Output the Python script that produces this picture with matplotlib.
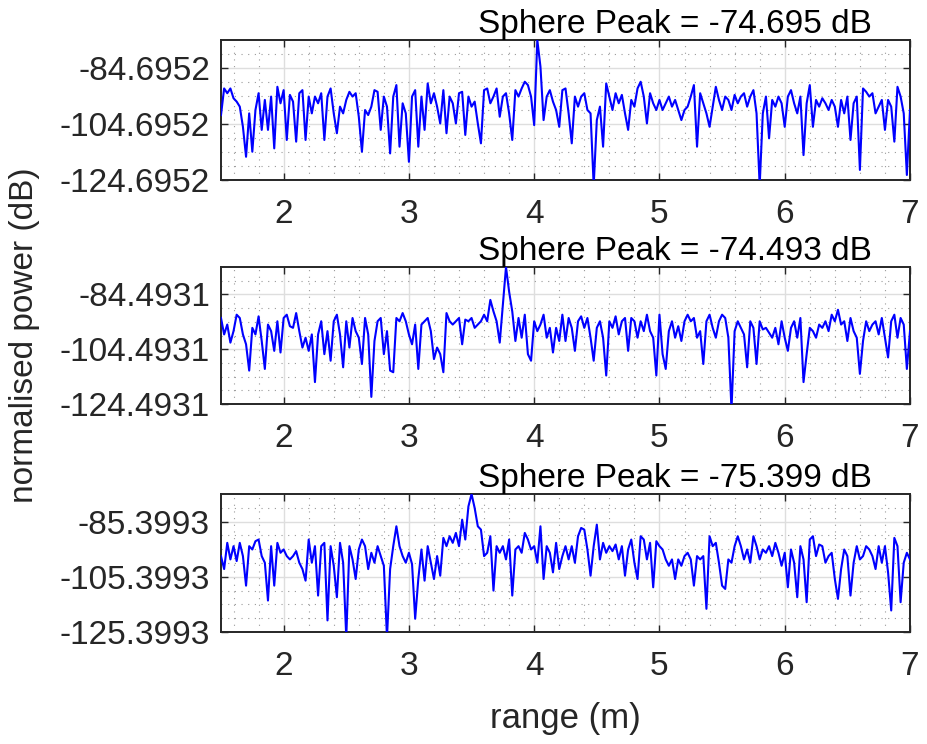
import numpy as np
import matplotlib
matplotlib.use("Agg")
import matplotlib.pyplot as plt

plt.rcParams["font.family"] = ["Liberation Sans", "DejaVu Sans"]

# Range bins (m) and normalised power (dB) for the three sphere measurements
range_first, range_last = 1.5, 7.0

power_1 = [
    -101.5, -92.0, -93.7, -92.0, -95.5, -96.7, -98.5, -105.7, -116.4, -100.9,
    -114.6, -99.7, -93.7, -106.8, -96.1, -106.8, -94.9, -113.4, -91.4, -97.3,
    -92.6, -110.4, -94.3, -96.7, -111.0, -93.7, -92.6, -110.4, -94.9, -100.9,
    -94.9, -97.3, -93.7, -110.4, -94.9, -92.0, -100.9, -108.0, -98.5, -100.9,
    -96.1, -93.2, -94.9, -93.7, -102.1, -114.6, -99.7, -101.5, -98.5, -92.6,
    -93.2, -106.8, -94.9, -98.5, -115.2, -94.9, -90.8, -112.8, -97.3, -100.9,
    -118.2, -94.9, -92.6, -112.8, -94.9, -106.8, -90.2, -97.3, -93.7, -98.5,
    -104.5, -92.6, -108.0, -94.9, -97.3, -104.5, -93.7, -93.2, -108.6, -94.9,
    -98.5, -96.7, -104.5, -111.6, -92.6, -92.0, -97.3, -94.9, -92.0, -102.1,
    -94.9, -93.7, -100.9, -110.4, -92.6, -94.9, -92.0, -89.6, -90.8, -94.9,
    -105.1, -74.6952, -84.2, -103.3, -94.9, -92.6, -96.7, -99.7, -105.7, -92.6,
    -92.0, -100.9, -111.6, -94.9, -98.5, -94.9, -93.7, -99.7, -100.9, -126.7,
    -103.3, -98.5, -112.8, -90.2, -94.9, -99.7, -93.7, -97.3, -94.3, -100.9,
    -106.8, -96.1, -98.5, -92.0, -89.6, -94.9, -104.5, -93.7, -97.3, -99.7,
    -96.1, -99.7, -97.3, -94.9, -98.5, -96.1, -99.7, -103.3, -99.7, -98.5,
    -94.9, -90.8, -112.8, -93.7, -97.3, -100.9, -105.7, -98.5, -91.4, -96.1,
    -99.7, -94.9, -96.1, -99.7, -94.3, -97.3, -94.9, -93.7, -98.5, -94.9,
    -92.6, -100.9, -126.7, -100.9, -94.9, -109.8, -96.1, -98.5, -94.9, -97.3,
    -105.7, -94.9, -92.6, -97.3, -100.9, -94.9, -115.8, -97.3, -90.8, -105.7,
    -96.1, -98.5, -95.5, -97.3, -99.7, -96.1, -98.5, -105.7, -96.1, -100.9,
    -94.9, -110.4, -97.3, -94.9, -121.1, -92.0, -93.2, -94.9, -93.7, -100.9,
    -98.5, -96.1, -106.8, -96.1, -98.5, -111.0, -91.4, -94.9, -100.9, -122.9,
    -99.7,
]

power_2 = [
    -93.1, -99.1, -95.5, -102.1, -97.9, -91.9, -93.1, -99.1, -102.7, -112.3,
    -96.7, -99.1, -92.5, -101.5, -111.7, -95.5, -97.9, -105.1, -94.3, -105.7,
    -93.1, -91.9, -96.1, -96.7, -91.3, -97.9, -103.9, -100.3, -105.1, -99.1,
    -116.5, -99.1, -94.3, -106.3, -97.9, -108.7, -94.3, -91.9, -99.1, -111.1,
    -94.3, -103.9, -93.1, -97.9, -100.3, -109.9, -93.1, -99.1, -121.9, -101.5,
    -94.3, -93.1, -106.3, -97.9, -112.3, -112.9, -93.1, -94.3, -91.3, -94.3,
    -99.1, -102.7, -95.5, -111.7, -95.5, -94.3, -93.1, -97.9, -108.1, -103.9,
    -106.3, -112.9, -91.3, -94.3, -95.5, -94.3, -93.1, -102.7, -93.7, -94.3,
    -93.1, -96.7, -95.5, -94.3, -91.9, -94.3, -86.5, -90.7, -94.3, -102.1,
    -88.3, -74.4931, -83.5, -90.7, -101.5, -93.1, -100.3, -91.9, -106.3, -108.7,
    -94.3, -97.9, -95.5, -91.9, -100.3, -96.7, -105.7, -96.7, -101.5, -91.9,
    -101.5, -93.1, -96.7, -105.1, -94.3, -92.5, -96.7, -93.1, -100.3, -108.7,
    -96.7, -94.3, -100.3, -114.1, -94.3, -96.7, -92.5, -99.1, -94.3, -93.1,
    -105.1, -93.1, -94.3, -100.3, -94.3, -97.9, -91.9, -97.9, -100.3, -114.1,
    -91.9, -106.3, -111.7, -97.9, -94.3, -100.3, -96.1, -101.5, -94.3, -91.9,
    -94.3, -93.1, -100.3, -97.9, -109.9, -94.3, -91.9, -96.7, -100.3, -94.3,
    -91.9, -93.1, -100.3, -126.5, -97.9, -94.3, -96.7, -99.1, -111.1, -94.3,
    -96.7, -109.9, -94.3, -97.3, -96.7, -98.5, -100.3, -96.7, -102.7, -94.3,
    -100.3, -105.1, -96.7, -94.3, -100.3, -93.1, -116.5, -106.3, -96.7, -97.9,
    -100.3, -95.5, -96.7, -94.3, -97.9, -91.9, -94.3, -90.1, -95.5, -94.3,
    -101.5, -93.1, -97.9, -100.3, -113.5, -101.5, -94.3, -97.9, -95.5, -94.3,
    -99.1, -93.1, -100.3, -107.5, -94.3, -91.9, -100.3, -93.1, -95.5, -111.7,
    -97.9,
]

power_3 = [
    -97.9, -102.6, -93.1, -99.1, -94.3, -99.7, -93.1, -97.9, -108.6, -94.3,
    -95.5, -92.5, -91.9, -97.9, -100.3, -114.0, -94.3, -108.6, -93.1, -96.7,
    -95.5, -97.9, -99.1, -97.9, -96.1, -100.3, -102.6, -106.8, -91.9, -100.3,
    -94.3, -112.2, -94.3, -93.1, -121.2, -94.3, -101.4, -112.8, -93.1, -100.3,
    -127.4, -94.3, -99.1, -106.2, -95.5, -91.9, -94.3, -102.6, -96.7, -100.3,
    -94.3, -97.9, -101.4, -127.4, -102.6, -94.3, -87.1, -94.3, -97.9, -100.3,
    -96.7, -100.8, -120.6, -106.2, -95.5, -106.8, -94.3, -100.3, -106.2, -97.9,
    -105.0, -91.3, -94.3, -90.7, -93.1, -89.5, -94.3, -84.7, -91.9, -79.9,
    -75.3993, -80.5, -87.1, -88.3, -97.9, -96.7, -90.7, -110.4, -94.3, -96.7,
    -94.3, -99.1, -91.9, -112.2, -95.5, -94.3, -96.7, -89.5, -91.9, -95.5,
    -94.3, -100.3, -87.1, -106.2, -94.3, -96.7, -103.8, -93.1, -102.6, -97.9,
    -94.3, -99.1, -94.3, -100.3, -90.7, -87.7, -88.3, -95.5, -105.0, -94.3,
    -86.5, -99.1, -93.1, -96.7, -94.3, -96.1, -93.7, -99.1, -94.3, -105.0,
    -95.5, -91.9, -100.3, -106.2, -90.7, -91.9, -99.1, -93.1, -109.2, -92.5,
    -94.3, -95.5, -99.1, -101.4, -99.1, -106.2, -99.1, -101.4, -97.9, -96.7,
    -99.1, -108.6, -97.9, -99.1, -97.9, -117.0, -90.7, -94.3, -93.1, -100.3,
    -108.6, -109.8, -99.1, -100.3, -94.3, -90.7, -94.3, -99.1, -95.5, -100.3,
    -90.7, -94.3, -99.1, -95.5, -96.7, -94.3, -97.9, -93.1, -96.7, -101.4,
    -96.7, -109.2, -95.5, -100.3, -112.8, -94.3, -99.1, -114.6, -91.9, -90.7,
    -97.9, -93.7, -94.3, -100.3, -97.9, -96.7, -106.2, -113.4, -102.6, -95.5,
    -97.9, -112.2, -100.3, -94.3, -99.1, -97.9, -94.3, -95.5, -97.9, -102.6,
    -94.3, -100.3, -94.3, -103.8, -117.6, -91.3, -94.3, -114.6, -100.3, -96.7,
    -99.1,
]

x_ticks = [2, 3, 4, 5, 6, 7]
series = [power_1, power_2, power_3]

TXT = "#262626"
fig = plt.figure(figsize=(9.28, 7.44), dpi=100)

left, width = 221 / 928, 689 / 928
boxes = [(40, 180), (267, 404), (494, 632)]

axes = []
for (top, bottom), power in zip(boxes, series):
    ax = fig.add_axes([left, 1 - bottom / 744, width, (bottom - top) / 744])
    axes.append(ax)
    power = np.asarray(power)
    rng = np.linspace(range_first, range_last, len(power))
    peak = power.max()

    ax.plot(rng, power, color="#0000ff", lw=1.5, zorder=3)

    ax.set_xlim(range_first, range_last)
    ax.set_ylim(peak - 50, peak)

    yt = [peak - 50, peak - 30, peak - 10]
    ax.set_yticks(yt)
    ax.set_yticklabels([f"{v:.4f}" for v in yt])
    ax.set_xticks(x_ticks)
    ax.set_xticks(np.arange(1.6, 7.0, 0.2), minor=True)
    ax.set_yticks(np.arange(peak - 45, peak, 5), minor=True)

    ax.grid(True, which="major", color="#dedede", lw=1.0, zorder=0)
    ax.grid(True, which="minor", color="#9a9a9a", lw=0.8,
            linestyle=(0, (1, 5)), zorder=0)
    ax.set_axisbelow(True)

    ax.tick_params(which="major", direction="in", length=5, width=1.0,
                   color=TXT, labelsize=24, labelcolor=TXT,
                   top=True, right=True)
    ax.tick_params(which="minor", length=0, top=True, right=True)
    ax.tick_params(axis="y", pad=8)
    ax.tick_params(axis="x", pad=14)
    for s in ax.spines.values():
        s.set_color(TXT)
        s.set_linewidth(1.4)

    ax.text(0.659, 1.05, f"Sphere Peak = {peak:.3f} dB", transform=ax.transAxes,
            ha="center", va="baseline", fontsize=24, color="black")

axes[1].set_ylabel("normalised power (dB)", fontsize=24, color=TXT, labelpad=14)
axes[2].set_xlabel("range (m)", fontsize=25, color=TXT, labelpad=14)

fig.savefig("out.png", dpi=100, facecolor="white")
